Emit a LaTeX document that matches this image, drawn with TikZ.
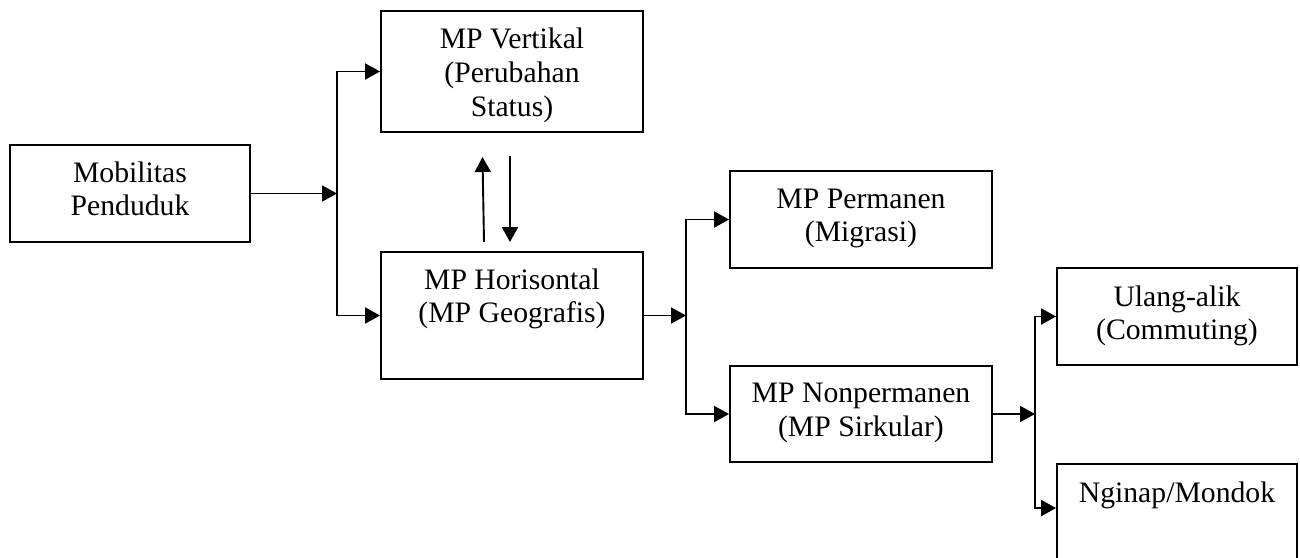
\documentclass[tikz,border=0pt]{standalone}
\usepackage{fontspec}
\setmainfont{Liberation Serif}
\usetikzlibrary{arrows.meta,calc}
\begin{document}
\begin{tikzpicture}[x=1pt,y=-1pt,
  box/.style={draw, line width=1.9pt, rectangle, inner sep=0pt},
  lbl/.style={anchor=base, inner sep=0pt, font=\fontsize{29.7}{33.8}\selectfont},
  arr/.style={line width=1.9pt, -{Triangle[length=15pt,width=16pt]}}]
\clip (0,0) rectangle (1300,557);
% boxes
\node[box, minimum width=240pt, minimum height=97pt] (mob) at (130,193.5) {};
\node[box, minimum width=262pt, minimum height=121pt] (ver) at (512,71.5) {};
\node[box, minimum width=262pt, minimum height=127pt] (hor) at (512,315.5) {};
\node[box, minimum width=262pt, minimum height=97pt] (per) at (861,219.5) {};
\node[box, minimum width=262pt, minimum height=96pt] (non) at (861,414) {};
\node[box, minimum width=240pt, minimum height=97pt] (ula) at (1177,316.5) {};
\node[box, minimum width=240pt, minimum height=136pt] (ngi) at (1177,532) {};
% texts
\node[lbl] (tmob) at ($(mob.north)+(0,38)$) {\begin{tabular}[t]{@{}c@{}}Mobilitas\\Penduduk\end{tabular}};
\node[lbl] (tver) at ($(ver.north)+(0,38.5)$) {\begin{tabular}[t]{@{}c@{}}MP Vertikal\\(Perubahan\\Status)\end{tabular}};
\node[lbl] (thor) at ($(hor.north)+(0,38)$) {\begin{tabular}[t]{@{}c@{}}MP Horisontal\\(MP Geografis)\end{tabular}};
\node[lbl] (tper) at ($(per.north)+(0,38)$) {\begin{tabular}[t]{@{}c@{}}MP Permanen\\(Migrasi)\end{tabular}};
\node[lbl] (tnon) at ($(non.north)+(0,37.5)$) {\begin{tabular}[t]{@{}c@{}}MP Nonpermanen\\(MP Sirkular)\end{tabular}};
\node[lbl] (tula) at ($(ula.north)+(0,39)$) {\begin{tabular}[t]{@{}c@{}}Ulang-alik\\(Commuting)\end{tabular}};
\node[lbl] (tngi) at ($(ngi.north)+(0,39)$) {\begin{tabular}[t]{@{}c@{}}Nginap/Mondok\end{tabular}};
% connectors
\coordinate (j1) at (337,193.5);
\draw[arr] (mob.east) -- (j1);
\draw[arr] (j1) |- (ver.west);
\draw[arr] (j1) |- (hor.west);
\coordinate (j2) at (686,315.5);
\draw[arr] (hor.east) -- (j2);
\draw[arr] (j2) |- (per.west);
\draw[arr] (j2) |- (non.west);
\coordinate (j3) at (1035,414);
\draw[arr] (non.east) -- (j3);
\draw[arr] (j3) |- (ula.west);
\coordinate (ngin) at ($(ngi.north west)+(0,45)$);
\draw[arr] (j3) |- (ngin);
% vertical pair
\coordinate (ua) at (484,242);
\coordinate (ub) at (482.5,157);
\draw[arr] (ua) -- (ub);
\coordinate (da) at (510,156);
\coordinate (db) at (510,242);
\draw[arr] (da) -- (db);
\end{tikzpicture}
\end{document}
